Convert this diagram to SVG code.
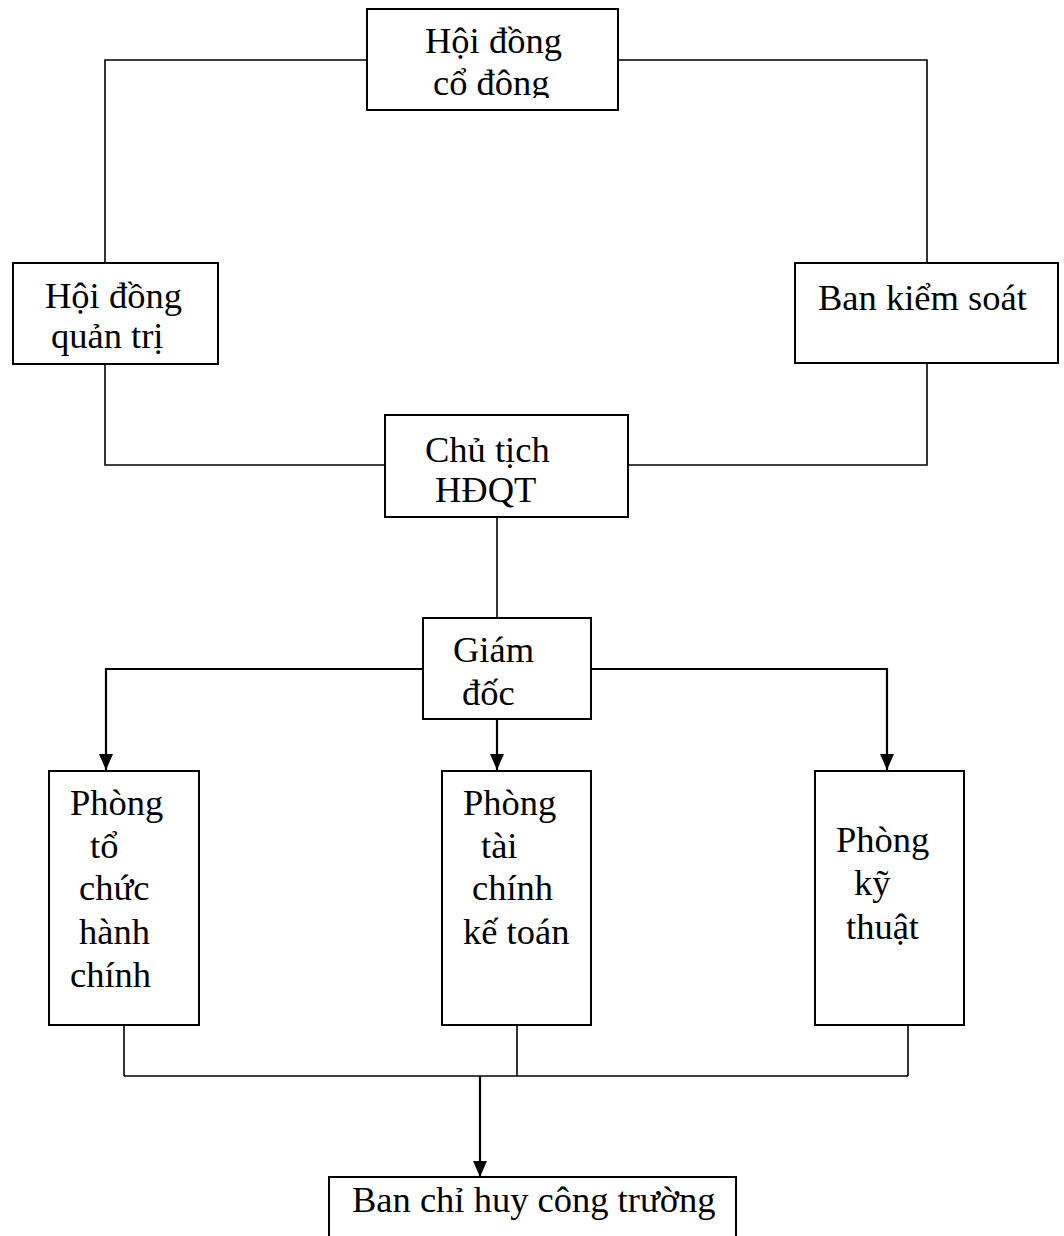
<svg xmlns="http://www.w3.org/2000/svg" width="1064" height="1236" viewBox="0 0 1064 1236">
  <style>
    .box { fill: #fff; stroke: #000; stroke-width: 2; }
    .lbl { font-family: "Liberation Serif", "Times New Roman", serif; font-size: 36.5px; fill: #000; }
    .wire { fill: none; stroke: #000; stroke-width: 1.6; }
    .arrow { fill: none; stroke: #000; stroke-width: 2.2; marker-end: url(#head); }
  </style>
  <defs>
    <marker id="head" markerWidth="16" markerHeight="14" refX="16" refY="7" orient="auto" markerUnits="userSpaceOnUse" viewBox="0 0 16 14">
      <path d="M0,0 L16,7 L0,14 Z" fill="#000"/>
    </marker>
    <clipPath id="clipTop"><rect x="367" y="9" width="251" height="89"/></clipPath>
  </defs>

  <!-- connectors -->
  <g id="connectors">
    <polyline class="wire" points="367,60 105,60 105,263"/>
    <polyline class="wire" points="618,60 927,60 927,263"/>
    <polyline class="wire" points="105,364 105,465 385,465"/>
    <polyline class="wire" points="927,363 927,465 628,465"/>
    <line class="wire" x1="497" y1="517" x2="497" y2="618"/>
    <polyline class="arrow" points="423,669 106,669 106,770"/>
    <polyline class="arrow" points="591,669 887,669 887,770"/>
    <line class="arrow" x1="497" y1="719" x2="497" y2="770"/>
    <line class="wire" x1="124" y1="1025" x2="124" y2="1076"/>
    <line class="wire" x1="517" y1="1025" x2="517" y2="1076"/>
    <line class="wire" x1="908" y1="1025" x2="908" y2="1076"/>
    <line class="wire" x1="124" y1="1076" x2="908" y2="1076"/>
    <line class="arrow" x1="480" y1="1076" x2="480" y2="1177"/>
  </g>

  <g id="hoi-dong-co-dong">
    <rect class="box" x="367" y="9" width="251" height="101"/>
    <g clip-path="url(#clipTop)">
      <text class="lbl" x="425" y="53">Hội đồng</text>
      <text class="lbl" x="433" y="95">cổ đông</text>
    </g>
  </g>

  <g id="hoi-dong-quan-tri">
    <rect class="box" x="13" y="263" width="205" height="101"/>
    <text class="lbl" x="45" y="308">Hội đồng</text>
    <text class="lbl" x="51" y="348">quản trị</text>
  </g>

  <g id="ban-kiem-soat">
    <rect class="box" x="795" y="263" width="263" height="100"/>
    <text class="lbl" x="818" y="310">Ban kiểm soát</text>
  </g>

  <g id="chu-tich-hdqt">
    <rect class="box" x="385" y="415" width="243" height="102"/>
    <text class="lbl" x="425" y="462">Chủ tịch</text>
    <text class="lbl" x="435" y="502">HĐQT</text>
  </g>

  <g id="giam-doc">
    <rect class="box" x="423" y="618" width="168" height="101"/>
    <text class="lbl" x="453" y="662">Giám</text>
    <text class="lbl" x="462" y="705">đốc</text>
  </g>

  <g id="phong-to-chuc-hanh-chinh">
    <rect class="box" x="49" y="771" width="150" height="254"/>
    <text class="lbl" x="70" y="815">Phòng</text>
    <text class="lbl" x="90" y="858">tổ</text>
    <text class="lbl" x="79" y="900">chức</text>
    <text class="lbl" x="79" y="944">hành</text>
    <text class="lbl" x="70" y="987">chính</text>
  </g>

  <g id="phong-tai-chinh-ke-toan">
    <rect class="box" x="442" y="771" width="149" height="254"/>
    <text class="lbl" x="463" y="815">Phòng</text>
    <text class="lbl" x="481" y="858">tài</text>
    <text class="lbl" x="472" y="900">chính</text>
    <text class="lbl" x="463" y="944">kế toán</text>
  </g>

  <g id="phong-ky-thuat">
    <rect class="box" x="815" y="771" width="149" height="254"/>
    <text class="lbl" x="836" y="852">Phòng</text>
    <text class="lbl" x="854" y="895">kỹ</text>
    <text class="lbl" x="846" y="939">thuật</text>
  </g>

  <g id="ban-chi-huy-cong-truong">
    <rect class="box" x="329" y="1177" width="407" height="80"/>
    <text class="lbl" x="352" y="1212">Ban chỉ huy công trường</text>
  </g>
</svg>
